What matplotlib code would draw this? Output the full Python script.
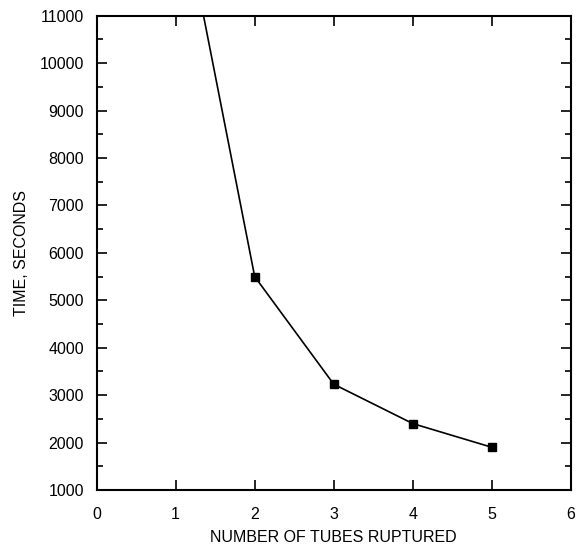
import matplotlib
matplotlib.use("Agg")
from matplotlib import pyplot as plt
from matplotlib.ticker import MultipleLocator

# data
tubes = [1, 2, 3, 4, 5]
time_s = [14000, 5500, 3230, 2400, 1900]

plt.rcParams['font.family'] = ['Liberation Sans', 'DejaVu Sans']

fig = plt.figure(figsize=(5.79, 5.52), dpi=100)
ax = fig.add_axes([0.1667, 0.1123, 0.8195, 0.8593])

ax.plot(tubes, time_s, color='black', lw=1.2, marker='s', ms=5.5,
        markerfacecolor='black', markeredgecolor='black')

ax.set_xlim(0, 6)
ax.set_ylim(1000, 11000)
ax.xaxis.set_major_locator(MultipleLocator(1))
ax.yaxis.set_major_locator(MultipleLocator(1000))
ax.yaxis.set_minor_locator(MultipleLocator(500))

ax.tick_params(which='both', direction='in', top=True, right=True,
               labelsize=11.5, width=1.2, colors='black')
ax.tick_params(which='major', length=7)
ax.tick_params(which='minor', length=4)
ax.tick_params(axis='x', which='major', pad=12)
ax.tick_params(axis='y', which='major', pad=9)
for s in ax.spines.values():
    s.set_linewidth(1.5)

ax.set_xlabel('NUMBER OF TUBES RUPTURED', fontsize=11.5, labelpad=6)
ax.set_ylabel('TIME, SECONDS', fontsize=11.5, labelpad=8)

fig.savefig('out.png', dpi=100)
